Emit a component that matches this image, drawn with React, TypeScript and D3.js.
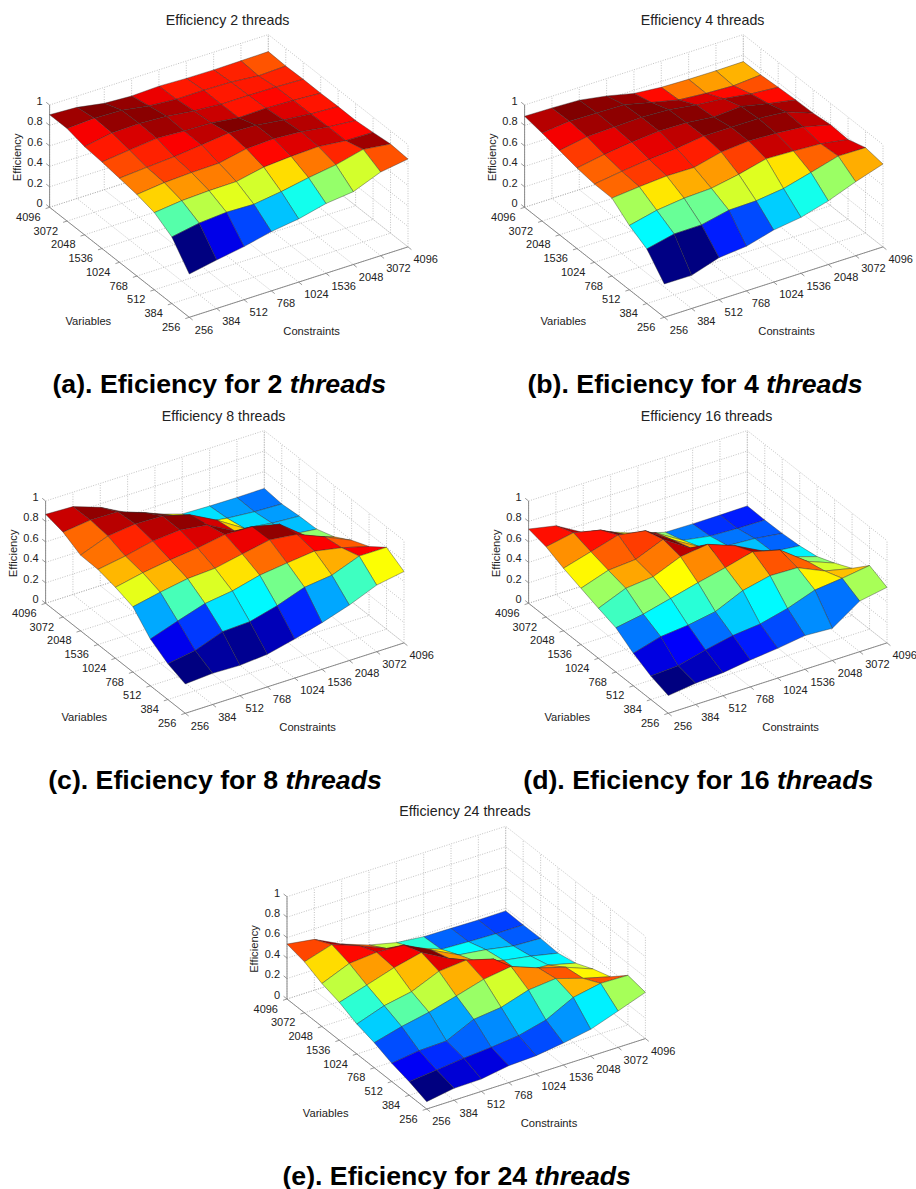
import React from 'react';
import * as d3 from 'd3';

const sizes = ["256", "384", "512", "768", "1024", "1536", "2048", "3072", "4096"];
const zTicks = [0, 0.2, 0.4, 0.6, 0.8, 1];

// efficiency values, one row per Variables value (256 first), one column per Constraints value
const eff2 = [
  [.423, .474, .519, .58, .618, .682, .712, .818, .859],
  [.651, .70, .72, .712, .75, .80, .84, .905, .871],
  [.755, .785, .797, .80, .855, .874, .884, .855, .85],
  [.797, .827, .84, .845, .90, .912, .894, .855, .832],
  [.822, .842, .86, .889, .92, .91, .875, .848, .834],
  [.846, .877, .905, .89, .884, .848, .855, .846, .83],
  [.862, .91, .915, .90, .867, .846, .846, .842, .832],
  [.905, .92, .91, .867, .846, .848, .842, .817, .827],
  [.905, .891, .844, .83, .84, .83, .827, .83, .834],
];
const eff4 = [
  [.326, .324, .411, .436, .509, .547, .622, .723, .81],
  [.534, .594, .597, .654, .66, .694, .765, .839, .836],
  [.629, .691, .723, .734, .784, .85, .84, .825, .78],
  [.762, .787, .806, .803, .868, .89, .88, .855, .79],
  [.765, .803, .834, .855, .89, .89, .89, .868, .77],
  [.787, .834, .868, .89, .885, .855, .872, .814, .765],
  [.825, .872, .882, .89, .878, .838, .814, .775, .754],
  [.86, .89, .884, .878, .814, .754, .732, .72, .74],
  [.89, .885, .875, .83, .769, .743, .735, .733, .736],
];
const eff8 = [
  [.287, .305, .297, .319, .382, .456, .542, .651, .698],
  [.35, .393, .491, .503, .573, .667, .699, .80, .80],
  [.457, .547, .632, .669, .737, .77, .80, .747, .674],
  [.638, .694, .741, .756, .81, .862, .83, .72, .60],
  [.694, .75, .79, .82, .865, .857, .795, .59, .50],
  [.734, .779, .839, .862, .824, .68, .50, .47, .44],
  [.74, .84, .872, .865, .79, .65, .485, .45, .433],
  [.83, .862, .857, .762, .65, .49, .45, .427, .417],
  [.87, .859, .766, .628, .528, .443, .435, .432, .435],
];
const eff16 = [
  [.173, .208, .225, .263, .291, .33, .315, .495, .543],
  [.23, .245, .312, .367, .394, .46, .554, .583, .622],
  [.318, .394, .42, .467, .586, .646, .638, .52, .46],
  [.433, .48, .547, .615, .676, .746, .677, .48, .377],
  [.489, .598, .625, .735, .77, .67, .533, .39, .306],
  [.55, .64, .66, .77, .60, .47, .36, .306, .277],
  [.611, .687, .764, .72, .544, .39, .316, .30, .264],
  [.687, .738, .678, .544, .48, .32, .275, .264, .26],
  [.726, .672, .52, .44, .34, .264, .26, .26, .264],
];
const eff24 = [
  [.072, .116, .121, .165, .177, .215, .263, .356, .452],
  [.133, .16, .19, .21, .238, .305, .44, .492, .484],
  [.178, .215, .224, .349, .38, .464, .49, .406, .336],
  [.245, .316, .37, .443, .52, .56, .46, .38, .277],
  [.293, .386, .437, .55, .574, .498, .28, .267, .20],
  [.37, .453, .537, .60, .456, .34, .265, .22, .163],
  [.42, .53, .553, .538, .404, .27, .235, .185, .173],
  [.498, .58, .483, .37, .29, .19, .178, .17, .17],
  [.537, .497, .365, .27, .207, .179, .175, .17, .173],
];

const charts = [
  { threads: 2, letter: "a", data: eff2, ox: 189.3, oy: 317.3, capX: 219.3, capY: 392.5 },
  { threads: 4, letter: "b", data: eff4, ox: 664.3, oy: 317.3, capX: 695, capY: 392.5 },
  { threads: 8, letter: "c", data: eff8, ox: 185.3, oy: 713.3, capX: 215, capY: 788.5 },
  { threads: 16, letter: "d", data: eff16, ox: 668.3, oy: 713.3, capX: 698.3, capY: 788.5 },
  { threads: 24, letter: "e", data: eff24, ox: 426.7, oy: 1109, capX: 456.7, capY: 1184.5 },
];

const FONT = "'Liberation Sans', Arial, sans-serif";
const TEXT = "#222";

// axis index scales (screen offset along the floor edges of the box)
const pos = d3.scalePoint<string>().domain(sizes).range([0, 1]);
const zPx = d3.scaleLinear().domain([0, 1]).range([0, 102.3]);
const jet = d3.scaleLinear<string>()
  .domain([0, 0.125, 0.375, 0.625, 0.875, 1])
  .range(["#000080", "#0000ff", "#00ffff", "#ffff00", "#ff0000", "#800000"]);

// oblique projection: constraints run up-right, variables run up-left
function project(c: string, v: string, z: number, ox: number, oy: number): [number, number] {
  const a = pos(c) as number;
  const b = pos(v) as number;
  return [ox + a * 218.7 - b * 139.7, oy - a * 70.4 - b * 110 - zPx(z)];
}

function Surface({ chart }: { chart: typeof charts[number] }) {
  const { data, ox, oy, threads, letter, capX, capY } = chart;
  const P = (c: string, v: string, z: number) => project(c, v, z, ox, oy);
  const first = sizes[0];
  const last = sizes[sizes.length - 1];
  const line = d3.line();
  const all = data.flat();
  const tScale = d3.scaleLinear().domain(d3.extent(all) as [number, number]).range([0, 1]);

  const grid: [number, number][][] = [];
  sizes.forEach((s) => {
    grid.push([P(s, first, 0), P(s, last, 0), P(s, last, 1)]);
    grid.push([P(first, s, 0), P(last, s, 0), P(last, s, 1)]);
  });
  zTicks.forEach((z) => {
    grid.push([P(first, last, z), P(last, last, z), P(last, first, z)]);
  });

  // back faces first so the nearer ones paint over them
  const faces: { d: string; fill: string; key: string }[] = [];
  for (let j = sizes.length - 2; j >= 0; j--) {
    for (let i = sizes.length - 2; i >= 0; i--) {
      const pts = [
        P(sizes[i], sizes[j], data[j][i]),
        P(sizes[i + 1], sizes[j], data[j][i + 1]),
        P(sizes[i + 1], sizes[j + 1], data[j + 1][i + 1]),
        P(sizes[i], sizes[j + 1], data[j + 1][i]),
      ];
      faces.push({ d: line(pts) + "Z", fill: jet(tScale(data[j][i])), key: i + "-" + j });
    }
  }

  const corner = P(first, last, 0);
  const origin = P(first, first, 0);
  const right = P(last, first, 0);
  const top = P(first, last, 1);

  return (
    <g fontFamily={FONT} fill={TEXT}>
      {grid.map((g, k) => (
        <path key={k} d={line(g) as string} fill="none" stroke="#a8a8a8" strokeWidth={0.7} strokeDasharray="1 1.5" />
      ))}
      <path d={line([top, corner, origin, right]) as string} fill="none" stroke="#808080" strokeWidth={0.9} />
      {sizes.map((s) => {
        const [vx, vy] = P(first, s, 0);
        const [cx, cy] = P(s, first, 0);
        return (
          <g key={s}>
            <line x1={vx} y1={vy} x2={vx - 4} y2={vy + 1.3} stroke="#808080" strokeWidth={0.8} />
            <line x1={cx} y1={cy} x2={cx + 3.4} y2={cy + 2.7} stroke="#808080" strokeWidth={0.8} />
            <text x={vx - 9} y={vy + 9.5} textAnchor="end" dominantBaseline="central" fontSize={11}>{s}</text>
            <text x={cx + 5.5} y={cy + 12.3} dominantBaseline="central" fontSize={11}>{s}</text>
          </g>
        );
      })}
      {zTicks.map((z) => {
        const [x, y] = P(first, last, z);
        return (
          <g key={z}>
            <line x1={x} y1={y} x2={x - 3.4} y2={y - 2.7} stroke="#808080" strokeWidth={0.8} />
            <text x={x - 7} y={y - 4.2} textAnchor="end" dominantBaseline="central" fontSize={11}>{z}</text>
          </g>
        );
      })}
      {faces.map((f) => (
        <path key={f.key} d={f.d} fill={f.fill} stroke="#2a2a2a" strokeWidth={0.4} strokeLinejoin="round" />
      ))}
      <text x={origin[0] - 101} y={origin[1] + 3.7} textAnchor="middle" dominantBaseline="central" fontSize={11.2}>Variables</text>
      <text x={origin[0] + 122.3} y={origin[1] + 13.7} textAnchor="middle" dominantBaseline="central" fontSize={11.2}>Constraints</text>
      <text
        transform={`translate(${corner[0] - 33},${corner[1] - 50}) rotate(-90)`}
        textAnchor="middle" dominantBaseline="central" fontSize={11.2}
      >Efficiency</text>
      <text x={origin[0] + 38.3} y={origin[1] - 297.7} textAnchor="middle" dominantBaseline="central" fontSize={14.2}>
        Efficiency {threads} threads
      </text>
      <text x={capX} y={capY} textAnchor="middle" fontSize={26.7} fontWeight="bold" fill="#000">
        ({letter}). Eficiency for {threads} <tspan fontStyle="italic">threads</tspan>
      </text>
    </g>
  );
}

export default function App() {
  return (
    <svg width={916} height={1189} style={{ position: "absolute", left: 0, top: 0, background: "#fff" }}>
      {charts.map((c) => (
        <Surface key={c.threads} chart={c} />
      ))}
    </svg>
  );
}
